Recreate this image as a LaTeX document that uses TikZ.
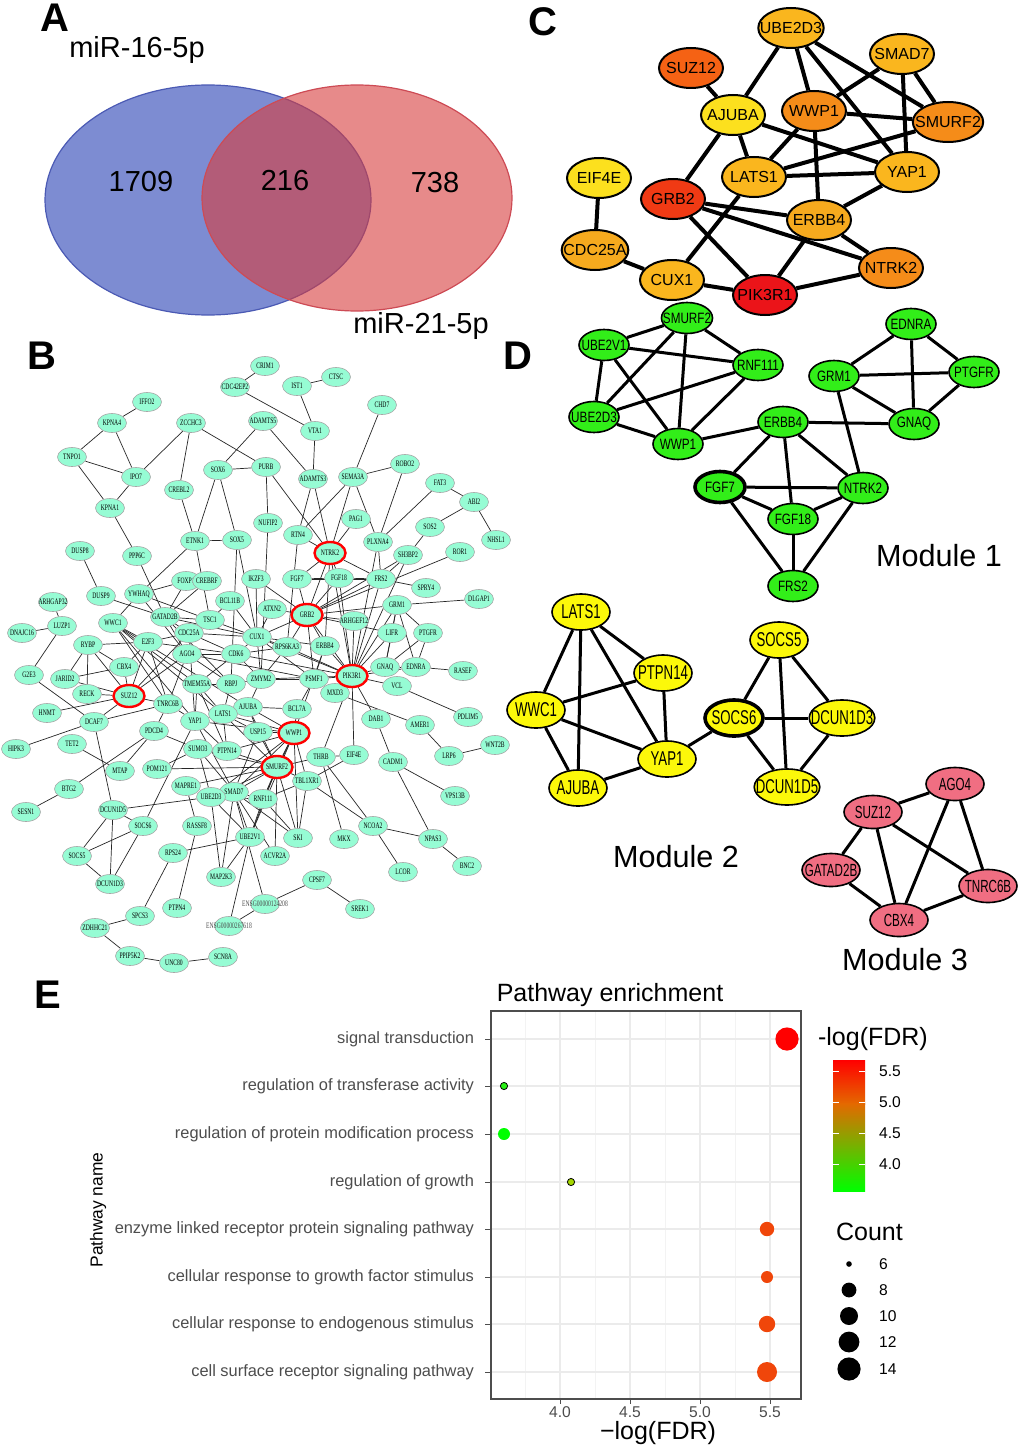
\documentclass[tikz,border=0pt]{standalone}
\usepackage{fontspec}
\setmainfont{Liberation Sans}
\newfontfamily\bfont[FakeStretch=0.67]{Liberation Serif}
\newfontfamily\dfontA[FakeStretch=0.78]{Liberation Sans}
\newfontfamily\dfontB[FakeStretch=0.66]{Liberation Sans}
\usetikzlibrary{shapes.geometric,backgrounds}

\definecolor{bnodefill}{RGB}{150,252,212}
\definecolor{vennblue}{RGB}{125,140,210}
\definecolor{vennbluedraw}{RGB}{75,90,180}
\definecolor{vennred}{RGB}{215,60,60}
\definecolor{vennreddraw}{RGB}{205,75,85}
\definecolor{cyel}{RGB}{252,224,30}
\definecolor{corg}{RGB}{250,182,30}
\definecolor{cora}{RGB}{246,170,30}
\definecolor{cdor}{RGB}{245,140,25}
\definecolor{csuz}{RGB}{245,98,20}
\definecolor{cgrb}{RGB}{240,58,20}
\definecolor{cpik}{RGB}{235,20,25}
\definecolor{modgreen}{RGB}{50,238,25}
\definecolor{modyellow}{RGB}{252,248,10}
\definecolor{modpink}{RGB}{240,110,130}
\definecolor{gridgray}{RGB}{235,235,235}
\definecolor{axgray}{RGB}{77,77,77}
\definecolor{fdrred}{RGB}{255,0,0}
\definecolor{fdrorange}{RGB}{228,105,0}
\definecolor{fdrolive}{RGB}{175,190,0}
\definecolor{fdrhi}{RGB}{240,70,10}
\definecolor{fdrgreen}{RGB}{0,255,0}
\definecolor{fdrlg}{RGB}{40,240,20}
\definecolor{fdrlime}{RGB}{165,215,0}

\newcommand\bfnt{\bfont\fontsize{4.2}{4.5}\selectfont}

\begin{document}
\begin{tikzpicture}[x=0.5pt, y=-0.5pt,
        panel/.style={font=\bfseries\fontsize{20}{20}\selectfont},
        big/.style={font=\fontsize{14.5}{15}\selectfont},
        bnode/.style={ellipse, draw=gray!70, fill=bnodefill, line width=0.3pt,
            minimum width=14.5pt, minimum height=9.5pt, inner xsep=-3pt, inner ysep=0pt, font=\bfnt},
        bhub/.style={bnode, draw=red, line width=1.2pt, minimum width=15.5pt, minimum height=11pt},
        bedge/.style={line width=0.35pt, black!85},
        cnode/.style={ellipse, draw, line width=1pt, minimum width=32pt, minimum height=20pt,
            inner xsep=-4pt, inner ysep=0pt, font=\fontsize{8}{8}\selectfont},
        cedge/.style={line width=2pt},
        dnodeA/.style={ellipse, draw, line width=0.8pt, fill=modgreen, minimum width=25pt, minimum height=15.5pt,
            inner xsep=-3pt, inner ysep=0pt, font=\dfontA\fontsize{7.5}{8}\selectfont},
        dnodeB/.style={ellipse, draw, line width=0.8pt, fill=modyellow, minimum width=29pt, minimum height=18pt,
            inner xsep=-4pt, inner ysep=0pt, font=\dfontB\fontsize{10}{10}\selectfont},
        dnodeC/.style={ellipse, draw, line width=0.8pt, fill=modpink, minimum width=29pt, minimum height=16.5pt,
            inner xsep=-4pt, inner ysep=0pt, font=\dfontB\fontsize{8.8}{9}\selectfont},
        dedge/.style={line width=1.5pt},
        modlab/.style={font=\fontsize{15.3}{16}\selectfont},
        ylab/.style={anchor=east, text=axgray, font=\fontsize{8.2}{9}\selectfont},
        tlab/.style={text=axgray, font=\fontsize{7.8}{8}\selectfont},
        ltitle/.style={font=\fontsize{12.5}{13}\selectfont}]

    \useasboundingbox (0,0) rectangle (1020,1445);
    \begin{scope}[on background layer]
        \fill[white] (0,0) rectangle (1020,1445);
    \end{scope}

    % --- panel letters ---
    \node[panel] (lA) at (55,18) {A};
    \node[panel] (lB) at (42,356) {B};
    \node[panel] (lC) at (543,22) {C};
    \node[panel] (lD) at (518,356) {D};
    \node[panel] (lE) at (48,995) {E};

    % --- A: Venn ---
    \fill[vennblue] (208,200) ellipse [x radius=163, y radius=115];
    \draw[vennbluedraw, line width=0.6pt] (208,200) ellipse [x radius=163, y radius=115];
    \fill[vennred, opacity=0.6] (357,198) ellipse [x radius=155, y radius=113];
    \draw[vennreddraw, line width=0.6pt] (357,198) ellipse [x radius=155, y radius=113];
    \node[big] (v16) at (137,50) {miR-16-5p};
    \node[big] (v21) at (421,326) {miR-21-5p};
    \node[big] (n1709) at (141,182) {1709};
    \node[big] (n216) at (285,181) {216};
    \node[big] (n738) at (435,183) {738};

    % --- B: full network ---
    \foreach \n/\x/\y in {CRIM1/265/366, CDC42EP2/235/387, IST1/297/386, CTSC/336/377,
        IFFO2/147/402, KPNA4/112/423, ZCCHC3/191/423, ADAMTS5/263/421, VTA1/315/431,
        CHD7/382/405, TNPO1/72/457, IPO7/136/477, CREBL2/179/490, SOX6/218/470,
        PURB/266/467, ADAMTS3/313/479, SEMA3A/353/477, ROBO2/405/464, FAT3/440/483,
        ABI2/474/502, KPNA1/110/508, NUFIP2/268/523, PAG1/356/519, RTN4/298/535,
        PLXNA4/378/542, SOS2/430/527, NHSL1/496/540, ETNK1/195/541, SOX5/237/540,
        DUSP8/80/551, PPP6C/137/556, SH3BP2/408/555, ROR1/460/552, IKZF3/256/579,
        FGF7/297/579, FGF18/339/578, FRS2/381/579, FOXP1/186/581, CREBRF/207/581,
        SPRY4/426/588, YWHAQ/139/594, DUSP9/101/596, ARHGAP32/53/602, BCL11B/230/601,
        DLGAP1/479/599, GRM1/397/605, ATXN2/272/609, GATAD2B/165/617, TSC1/210/620,
        ARHGEF12/354/621, WWC1/113/623, LUZP1/62/626, DNAJC16/22/633, CDC25A/189/633,
        LIFR/392/633, PTGFR/428/633, CUX1/257/637, E2F3/148/642, RYBP/88/645,
        RPS6KA3/287/647, ERBB4/325/646, AGO4/187/654, CDK6/236/654, GNAQ/385/667,
        EDNRA/416/667, CBX4/124/667, RASEF/463/671, G2E3/29/675, JARID2/65/679,
        ZMYM2/261/679, PSMF1/314/679, TMEM55A/197/684, RBPJ/231/684, VCL/397/686,
        MXD3/335/693, RECK/87/694, TNRC6B/168/704, AJUBA/248/707, BCL7A/297/709,
        HNMT/47/713, LATS1/223/714, PDLIM5/468/717, DAB1/376/719, YAP1/195/721,
        DCAF7/94/722, AMER1/420/725, PDCD4/154/731, USP15/258/732, TET2/72/744,
        WNT2B/495/745, HIPK3/16/749, SUMO3/198/749, PTPN14/227/751, EIF4E/354/755,
        LRP6/449/756, THRB/321/757, CADM1/393/762, POM121/157/769, MTAP/120/771,
        TBL1XR1/307/781, MAPRE1/186/786, BTG2/69/789, SMAD7/234/792, VPS13B/455/796,
        UBE2D3/211/797, RNF111/263/799, DCUN1D5/113/810, SESN1/26/812, SOCS6/143/826,
        RASSF8/197/826, NCOA2/373/826, UBE2V1/250/837, SKI/298/838, MKX/344/839,
        NPAS3/433/839, RPS24/173/853, SOCS5/77/856, ACVR2A/275/856, BNC2/467/866,
        LCOR/403/872, MAP2K3/221/877, CPSF7/317/880, DCUN1D3/110/884, SREK1/360/909,
        PTPN4/177/908, SPCS3/140/916, ZDHHC21/95/928, PPIP5K2/130/956, SCN8A/223/957,
        UNC80/174/963} {
        \node[bnode] (b\n) at (\x,\y) {\n};
    }
    \foreach \n/\x/\y in {ENSG00000124208/265/904, ENSG00000267618/229/926} {
        \node[bnode, label={[font=\bfnt, text=gray!60!black]center:\n}] (b\n) at (\x,\y) {};
    }
    % hub genes (red rings)
    \foreach \n/\x/\y in {NTRK2/330/553, GRB2/307/615, PIK3R1/352/676,
        SUZ12/129/696, WWP1/294/733, SMURF2/277/767} {
        \node[bhub] (b\n) at (\x,\y) {\n};
    }

    \begin{scope}[on background layer]
    \foreach \a/\b in {IFFO2/KPNA4, KPNA4/TNPO1, KPNA4/IPO7, TNPO1/IPO7, TNPO1/KPNA1,
        IPO7/KPNA1, IPO7/ZCCHC3, ZCCHC3/CREBL2, ZCCHC3/PURB, CREBL2/ETNK1, SOX6/PURB,
        SOX6/ETNK1, SOX6/SOX5, SOX6/ADAMTS5, ETNK1/SOX5, KPNA1/PPP6C, CRIM1/CDC42EP2,
        CDC42EP2/VTA1, IST1/CTSC, IST1/VTA1, VTA1/ADAMTS3, ADAMTS5/ADAMTS3, CHD7/SEMA3A,
        SEMA3A/ROBO2, SEMA3A/RTN4, SEMA3A/NTRK2, SEMA3A/PLXNA4, ROBO2/PLXNA4, FAT3/ABI2,
        FAT3/PLXNA4, ABI2/SOS2, ABI2/NHSL1, PURB/NTRK2, PURB/NUFIP2, ADAMTS3/RTN4,
        ADAMTS3/NTRK2, PAG1/NTRK2, RTN4/NTRK2, SOS2/SH3BP2, ETNK1/YWHAQ, ETNK1/TSC1,
        SOX5/CUX1, SOX5/RBPJ, NUFIP2/ZMYM2, RTN4/RPS6KA3, PLXNA4/PIK3R1, PLXNA4/FRS2,
        DUSP8/DUSP9, PPP6C/GATAD2B, ARHGAP32/LUZP1, LUZP1/DNAJC16, LUZP1/G2E3,
        DUSP9/GATAD2B, YWHAQ/WWC1, YWHAQ/FOXP1, FOXP1/GATAD2B, CREBRF/GATAD2B,
        YWHAQ/TSC1, YWHAQ/AGO4, WWC1/E2F3, WWC1/TNRC6B, WWC1/TMEM55A, WWC1/LATS1,
        WWC1/YAP1, WWC1/AJUBA, RYBP/E2F3, RYBP/CBX4, RYBP/JARID2, RYBP/RECK, RYBP/SUZ12,
        G2E3/DCAF7, JARID2/CBX4, JARID2/SUZ12, CBX4/SUZ12, CBX4/E2F3, RECK/SUZ12,
        SUZ12/TNRC6B, SUZ12/E2F3, SUZ12/AGO4, SUZ12/CDC25A, HNMT/SUZ12, DCAF7/SUZ12,
        DCAF7/TNRC6B, TET2/MTAP, HIPK3/DCAF7, E2F3/CDC25A, E2F3/CDK6, E2F3/TNRC6B,
        GATAD2B/CDC25A, GATAD2B/TSC1, GATAD2B/CUX1, GATAD2B/AGO4, GATAD2B/RBPJ,
        CDC25A/CDK6, CDC25A/CUX1, CDC25A/TSC1, CDC25A/YAP1, AGO4/TNRC6B, AGO4/CDK6,
        AGO4/RBPJ, AGO4/PSMF1, CDK6/CUX1, CDK6/ZMYM2, CDK6/TMEM55A, CDK6/RPS6KA3,
        TSC1/CUX1, TSC1/BCL11B, BCL11B/CUX1, IKZF3/CUX1, IKZF3/GRB2, ATXN2/GRB2,
        ATXN2/CUX1, CUX1/RPS6KA3, CUX1/GRB2, CUX1/ZMYM2, CUX1/PSMF1, RBPJ/TMEM55A,
        RBPJ/ZMYM2, RBPJ/LATS1, TMEM55A/LATS1, TMEM55A/YAP1, TMEM55A/PTPN14,
        ZMYM2/PSMF1, ZMYM2/AJUBA, ZMYM2/RPS6KA3} {
        \draw[bedge] (b\a) -- (b\b);
    }
    \foreach \a/\b in {NTRK2/FGF7, NTRK2/FGF18, NTRK2/GRB2, NTRK2/FRS2, NTRK2/PIK3R1,
        NTRK2/ERBB4, FGF7/FGF18, FGF7/GRB2, FGF7/FRS2, FGF18/FRS2, FGF18/GRB2,
        FGF18/PIK3R1, FRS2/SPRY4, FRS2/GRB2, FRS2/SH3BP2, FRS2/PIK3R1, SH3BP2/GRB2,
        SH3BP2/PIK3R1, ROR1/GRB2, GRM1/DLGAP1, GRM1/LIFR, GRM1/PTGFR, GRM1/GNAQ,
        GRM1/EDNRA, GRM1/PIK3R1, GRM1/GRB2, LIFR/PIK3R1, LIFR/GNAQ, LIFR/GRB2,
        PTGFR/GNAQ, PTGFR/EDNRA, GNAQ/EDNRA, GNAQ/PIK3R1, EDNRA/RASEF, EDNRA/PIK3R1,
        PIK3R1/VCL, VCL/PDLIM5, PIK3R1/ERBB4, PIK3R1/GRB2, PIK3R1/PSMF1, PIK3R1/DAB1,
        PIK3R1/MXD3, PIK3R1/ARHGEF12, PIK3R1/RPS6KA3, PIK3R1/CUX1, PIK3R1/ZMYM2,
        PIK3R1/CDK6, PIK3R1/EIF4E, PIK3R1/THRB, ARHGEF12/GRB2, GRB2/ERBB4,
        GRB2/RPS6KA3, GRB2/PSMF1, ERBB4/PSMF1, ERBB4/WWP1, ERBB4/CUX1, PSMF1/BCL7A,
        BCL7A/WWP1, MXD3/PSMF1, MXD3/AMER1, AMER1/LRP6, WNT2B/LRP6, CADM1/DAB1,
        LATS1/AJUBA, LATS1/YAP1, LATS1/PTPN14, LATS1/WWP1, LATS1/SMURF2, LATS1/USP15,
        YAP1/PTPN14, YAP1/AJUBA, YAP1/SMAD7, YAP1/WWP1, YAP1/TNRC6B, AJUBA/USP15,
        AJUBA/WWP1, AJUBA/SMURF2, AJUBA/BCL7A, USP15/WWP1, USP15/SMURF2, USP15/SMAD7,
        WWP1/SMURF2, WWP1/SMAD7, WWP1/RNF111, WWP1/UBE2D3, WWP1/UBE2V1, WWP1/SKI,
        WWP1/TBL1XR1, WWP1/PTPN14, SMURF2/SMAD7, SMURF2/RNF111, SMURF2/UBE2D3,
        SMURF2/UBE2V1, SMURF2/SKI, SMURF2/ACVR2A, SMURF2/THRB, SMURF2/TBL1XR1,
        SMURF2/SUMO3, SMURF2/PTPN14, SMAD7/RNF111, SMAD7/UBE2D3, SMAD7/SKI,
        SMAD7/ACVR2A, SMAD7/UBE2V1, SMAD7/MAP2K3, SMAD7/SUMO3, SMAD7/ENSG00000124208,
        UBE2D3/RNF111, UBE2D3/UBE2V1, UBE2D3/SUMO3, UBE2D3/DCUN1D5, RNF111/UBE2V1,
        RNF111/SKI, RNF111/TBL1XR1, UBE2V1/MAP2K3, UBE2V1/RPS24,
        UBE2V1/ENSG00000267618, ENSG00000267618/ENSG00000124208,
        ENSG00000124208/CPSF7, CPSF7/SREK1, TBL1XR1/EIF4E, TBL1XR1/SKI, TBL1XR1/NCOA2,
        THRB/EIF4E, THRB/MKX, THRB/NCOA2, NCOA2/LCOR, NCOA2/NPAS3, CADM1/NPAS3,
        CADM1/VPS13B, NPAS3/BNC2, PDCD4/SUMO3, PDCD4/TNRC6B, SUMO3/PTPN14,
        POM121/SUMO3, POM121/SMURF2, MTAP/PDCD4, BTG2/PDCD4, BTG2/SESN1,
        DCUN1D5/SOCS6, DCUN1D5/SOCS5, DCUN1D5/DCUN1D3, DCUN1D5/DCAF7, SOCS6/SOCS5,
        SOCS6/DCUN1D3, SOCS6/YAP1, SOCS5/DCUN1D3, RASSF8/PTPN4, RASSF8/MAPRE1,
        RPS24/SPCS3, ZDHHC21/SPCS3, ZDHHC21/PPIP5K2, PPIP5K2/UNC80, UNC80/SCN8A,
        MAPRE1/SMURF2, MAP2K3/UBE2D3} {
        \draw[bedge] (b\a) -- (b\b);
    }
    \end{scope}

    % --- C: hub network ---
    \foreach \n/\x/\y/\c in {UBE2D3/791/28/corg, SMAD7/902/54/corg, SUZ12/691/68/csuz,
        AJUBA/733/115/cyel, WWP1/814/111/cdor, SMURF2/948/122/cdor, EIF4E/599/178/cyel,
        LATS1/754/177/corg, YAP1/907/172/corg, GRB2/673/199/cgrb, ERBB4/819/220/cora,
        CDC25A/595/250/cora, NTRK2/891/268/cdor, CUX1/672/280/corg, PIK3R1/765/295/cpik} {
        \node[cnode, fill=\c] (c\n) at (\x,\y) {\n};
    }
    \begin{scope}[on background layer]
    \foreach \a/\b in {SUZ12/AJUBA, UBE2D3/AJUBA, UBE2D3/WWP1, UBE2D3/YAP1,
        UBE2D3/SMURF2, SMAD7/WWP1, SMAD7/SMURF2, SMAD7/YAP1, WWP1/SMURF2, WWP1/LATS1,
        WWP1/ERBB4, AJUBA/LATS1, AJUBA/GRB2, AJUBA/YAP1, LATS1/YAP1, LATS1/SMURF2,
        LATS1/CUX1, YAP1/ERBB4, GRB2/ERBB4, GRB2/NTRK2, GRB2/PIK3R1, ERBB4/NTRK2,
        ERBB4/PIK3R1, EIF4E/CDC25A, CDC25A/CUX1, CUX1/PIK3R1, PIK3R1/NTRK2} {
        \draw[cedge] (c\a) -- (c\b);
    }
    \end{scope}

    % --- D: modules ---
    \foreach \n/\x/\y in {SMURF2/687/318, UBE2V1/604/345, RNF111/758/365, UBE2D3/594/417,
        WWP1/678/444, EDNRA/911/324, GRM1/834/376, PTGFR/974/372, GNAQ/914/424,
        ERBB4/783/422, NTRK2/863/488, FGF18/793/519, FRS2/793/586} {
        \node[dnodeA] (d1\n) at (\x,\y) {\n};
    }
    \node[dnodeA, line width=1.8pt] (d1FGF7) at (720,487) {FGF7};
    \foreach \n/\x/\y in {LATS1/581/612, PTPN14/663/673, WWC1/536/710, YAP1/667/759,
        AJUBA/578/788, SOCS5/779/640, DCUN1D3/842/718, DCUN1D5/787/787} {
        \node[dnodeB] (d2\n) at (\x,\y) {\n};
    }
    \node[dnodeB, line width=1.8pt] (d2SOCS6) at (734,718) {SOCS6};
    \foreach \n/\x/\y in {AGO4/955/784, SUZ12/873/812, GATAD2B/831/870,
        TNRC6B/988/886, CBX4/899/920} {
        \node[dnodeC] (d3\n) at (\x,\y) {\n};
    }
    \begin{scope}[on background layer]
    \foreach \a/\b in {1SMURF2/1UBE2V1, 1SMURF2/1RNF111, 1SMURF2/1UBE2D3, 1SMURF2/1WWP1,
        1UBE2V1/1RNF111, 1UBE2V1/1UBE2D3, 1UBE2V1/1WWP1, 1RNF111/1UBE2D3, 1RNF111/1WWP1,
        1UBE2D3/1WWP1, 1WWP1/1ERBB4, 1EDNRA/1GRM1, 1EDNRA/1PTGFR, 1EDNRA/1GNAQ,
        1GRM1/1PTGFR, 1GRM1/1GNAQ, 1GRM1/1NTRK2, 1PTGFR/1GNAQ, 1ERBB4/1GNAQ,
        1ERBB4/1FGF7, 1ERBB4/1FGF18, 1ERBB4/1NTRK2, 1FGF7/1NTRK2, 1FGF7/1FGF18,
        1FGF7/1FRS2, 1NTRK2/1FGF18, 1NTRK2/1FRS2, 1FGF18/1FRS2,
        2LATS1/2PTPN14, 2LATS1/2WWC1, 2LATS1/2YAP1, 2LATS1/2AJUBA, 2PTPN14/2YAP1,
        2WWC1/2PTPN14, 2WWC1/2YAP1, 2WWC1/2AJUBA, 2AJUBA/2YAP1, 2YAP1/2SOCS6,
        2SOCS5/2SOCS6, 2SOCS5/2DCUN1D3, 2SOCS5/2DCUN1D5, 2SOCS6/2DCUN1D3,
        2SOCS6/2DCUN1D5, 2DCUN1D3/2DCUN1D5,
        3AGO4/3SUZ12, 3AGO4/3CBX4, 3AGO4/3TNRC6B, 3SUZ12/3GATAD2B, 3SUZ12/3CBX4,
        3SUZ12/3TNRC6B, 3GATAD2B/3CBX4, 3CBX4/3TNRC6B} {
        \draw[dedge] (d\a) -- (d\b);
    }
    \end{scope}
    \node[modlab] (m1) at (939,556) {Module 1};
    \node[modlab] (m2) at (676,857) {Module 2};
    \node[modlab] (m3) at (905,960) {Module 3};

    % --- E: enrichment dot plot ---
    \node[ltitle] (etitle) at (610,995) {Pathway enrichment};
    \foreach \x in {525,595,665,735} {
        \draw[gridgray!60, line width=0.3pt] (\x,1011) -- (\x,1399);
    }
    \foreach \x in {560,630,700,770} {
        \draw[gridgray, line width=0.7pt] (\x,1011) -- (\x,1399);
    }
    \foreach \y/\t in {1039/signal transduction, 1086/regulation of transferase activity,
        1134/regulation of protein modification process, 1182/regulation of growth,
        1229/enzyme linked receptor protein signaling pathway,
        1277/cellular response to growth factor stimulus,
        1324/cellular response to endogenous stimulus,
        1372/cell surface receptor signaling pathway} {
        \draw[gridgray, line width=0.7pt] (491,\y) -- (801,\y);
        \draw[axgray, line width=0.5pt] (485,\y) -- (491,\y);
        \node[ylab] at (481,\y) {\t};
    }
    \draw[axgray, line width=0.6pt] (491,1011) rectangle (801,1399);
    \foreach \x/\t in {560/4.0, 630/4.5, 700/5.0, 770/5.5} {
        \draw[axgray, line width=0.5pt] (\x,1399) -- (\x,1404);
        \node[tlab] at (\x,1412) {\t};
    }
    \node[ltitle] (xtitle) at (658,1433) {−log(FDR)};
    \node[rotate=90, font=\fontsize{8.7}{9}\selectfont] (ytitle) at (98,1210) {Pathway name};

    \fill[fdrred] (787,1039) circle[radius=5.8pt];
    \filldraw[fill=fdrlg, draw=black, line width=0.4pt] (504,1086) circle[radius=1.8pt];
    \fill[fdrgreen] (504,1134) circle[radius=3pt];
    \filldraw[fill=fdrlime, draw=black, line width=0.4pt] (571,1182) circle[radius=1.8pt];
    \foreach \y/\r in {1229/3.6pt, 1277/3pt, 1324/4.1pt, 1372/5pt} {
        \fill[fdrhi] (767,\y) circle[radius=\r];
    }

    % --- E: legends ---
    \node[anchor=west, ltitle] (fdrleg) at (811,1039) {-log(FDR)};
    \shade[top color=fdrred, bottom color=fdrorange] (833,1060) rectangle (865,1104);
    \shade[top color=fdrorange, middle color=fdrolive, bottom color=fdrgreen] (833,1103.5) rectangle (865,1191);
    \foreach \y/\t in {1071/5.5, 1102/5.0, 1133/4.5, 1164/4.0} {
        \draw[white, line width=0.5pt] (833,\y) -- (839,\y);
        \draw[white, line width=0.5pt] (859,\y) -- (865,\y);
        \node[anchor=west, tlab, text=black] at (872,\y) {\t};
    }
    \node[anchor=west, ltitle] (cntleg) at (829,1232) {Count};
    \foreach \y/\r/\t in {1264/1.4pt/6, 1290/3.7pt/8, 1316/4.5pt/10, 1342/5.2pt/12, 1369/5.8pt/14} {
        \fill (849,\y) circle[radius=\r];
        \node[anchor=west, tlab, text=black] at (872,\y) {\t};
    }

\end{tikzpicture}
\end{document}
